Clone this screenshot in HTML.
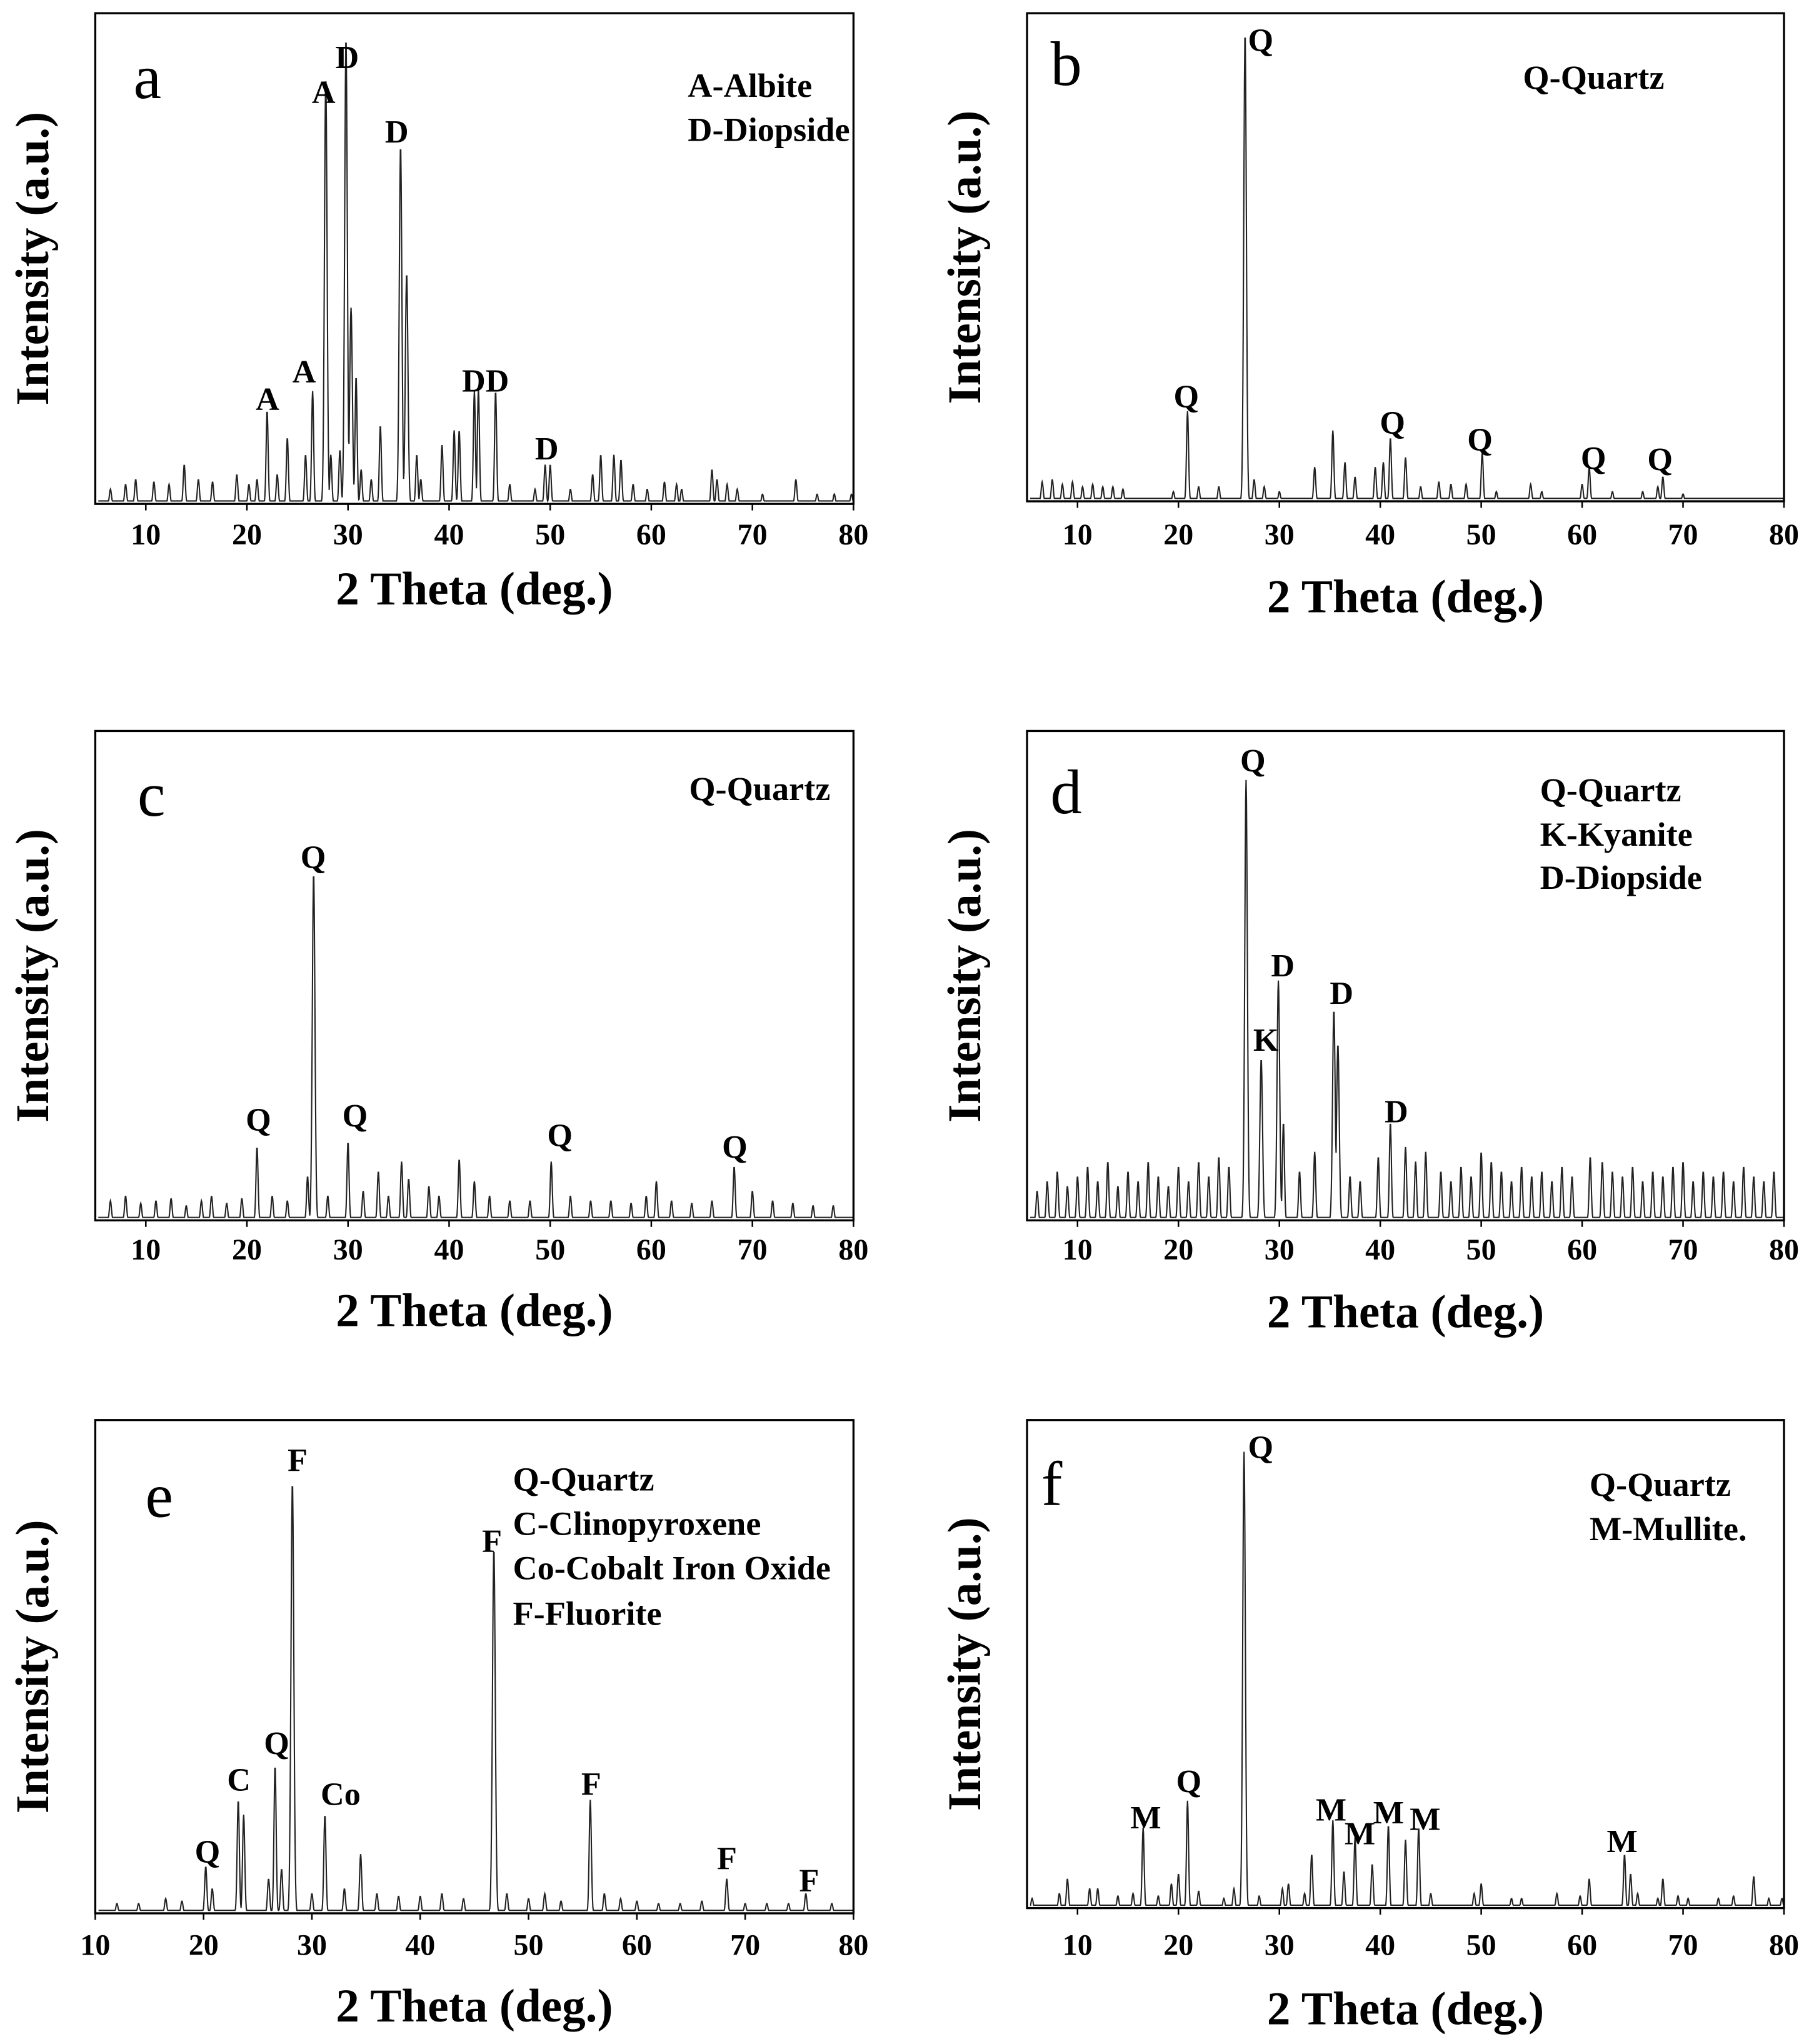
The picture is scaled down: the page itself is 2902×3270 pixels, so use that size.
<!DOCTYPE html>
<html><head><meta charset="utf-8"><style>
html,body{margin:0;padding:0;background:#fff}
svg{display:block}
text{font-family:"Liberation Serif",serif;fill:#000}
</style></head><body>
<svg id="fig" width="2902" height="3270" viewBox="0 0 1390 1566" xmlns="http://www.w3.org/2000/svg"></svg>
<script>
// ---- data (peak position in 2θ, relative height 0..1) ----
const aPos=[29.8,27.8,35.2,35.8,30.3,30.8,22.0,26.5,24.0,33.2,42.5,42.9,44.6,40.5,41.0,39.3,36.8,28.3,29.2,49.5,50.0,55.0,56.3,57.0,54.2,13.8,66.0,66.5,74.3,61.3,62.5,6.5,8.0,9.0,10.8,12.3,15.2,16.6,19.0,20.2,21.0,23.0,25.8,31.3,32.3,37.2,46.0,48.5,52.0,58.2,59.6,63.0,67.5,68.5,71.0,76.4,78.1,79.8];
const aInt=[0.95,0.87,0.73,0.47,0.40,0.26,0.19,0.23,0.135,0.16,0.23,0.235,0.23,0.15,0.15,0.12,0.1,0.1,0.11,0.08,0.08,0.1,0.1,0.09,0.06,0.08,0.07,0.05,0.05,0.045,0.04,0.03,0.04,0.05,0.045,0.04,0.05,0.045,0.06,0.04,0.05,0.06,0.1,0.07,0.05,0.05,0.04,0.03,0.03,0.04,0.03,0.03,0.04,0.03,0.02,0.02,0.02,0.02];
const bPos=[26.6,20.9,35.3,36.5,39.5,40.3,41.0,42.5,45.8,50.1,54.9,60.0,60.7,68.0,67.5,33.5,27.5,6.5,7.5,8.5,9.5,10.5,11.5,12.5,13.5,14.5,19.5,22.0,24.0,28.5,30.0,37.5,44.0,47.0,48.5,51.5,56.0,63.0,66.0,70.0];
const bInt=[0.96,0.185,0.145,0.08,0.07,0.08,0.13,0.09,0.04,0.1,0.035,0.035,0.07,0.05,0.03,0.07,0.045,0.04,0.045,0.035,0.04,0.03,0.035,0.03,0.03,0.025,0.02,0.03,0.03,0.03,0.02,0.05,0.03,0.035,0.035,0.02,0.02,0.02,0.02,0.015];
const cPos=[26.6,21.0,30.0,50.1,68.2,26.0,33.0,35.3,41.0,42.5,36.0,38.0,60.5,70.0,6.5,8.0,9.5,11.0,12.5,14.0,15.5,16.5,18.0,19.5,22.5,24.0,28.0,31.5,34.0,39.0,44.0,46.0,48.0,52.0,54.0,56.0,58.0,59.5,62.0,64.0,66.0,72.0,74.0,76.0,78.0];
const cInt=[0.71,0.15,0.16,0.12,0.11,0.09,0.1,0.12,0.125,0.08,0.085,0.07,0.08,0.06,0.04,0.05,0.035,0.04,0.045,0.03,0.04,0.05,0.035,0.045,0.05,0.04,0.05,0.06,0.05,0.05,0.05,0.04,0.04,0.05,0.04,0.04,0.035,0.05,0.04,0.035,0.04,0.04,0.035,0.03,0.03];
const dPos=[26.7,29.9,28.2,35.4,35.8,41.0,30.4,33.5,39.8,42.5,44.5,50.0,60.8,6.0,7.0,8.0,9.0,10.0,11.0,12.0,13.0,14.0,15.0,16.0,17.0,18.0,19.0,20.0,21.0,22.0,23.0,24.0,25.0,32.0,37.0,38.0,43.5,46.0,47.0,48.0,49.0,51.0,52.0,53.0,54.0,55.0,56.0,57.0,58.0,59.0,62.0,63.0,64.0,65.0,66.0,67.0,68.0,69.0,70.0,71.0,72.0,73.0,74.0,75.0,76.0,77.0,78.0,79.0];
const dInt=[0.9,0.49,0.33,0.43,0.36,0.2,0.2,0.14,0.13,0.15,0.14,0.14,0.13,0.06,0.08,0.1,0.07,0.09,0.11,0.08,0.12,0.07,0.1,0.08,0.12,0.09,0.07,0.11,0.08,0.12,0.09,0.13,0.11,0.1,0.09,0.08,0.12,0.1,0.08,0.11,0.09,0.12,0.1,0.08,0.11,0.09,0.1,0.08,0.11,0.09,0.12,0.1,0.09,0.11,0.08,0.1,0.09,0.11,0.12,0.08,0.1,0.09,0.1,0.08,0.11,0.09,0.08,0.1];
const ePos=[28.2,46.8,23.2,23.7,26.6,31.2,34.5,55.7,20.2,20.8,68.3,75.6,26.0,27.2,48.0,42.0,16.5,12.0,14.0,18.0,30.0,33.0,36.0,38.0,40.0,44.0,50.0,51.5,53.0,57.0,58.5,60.0,62.0,64.0,66.0,70.0,72.0,74.0,78.0];
const eInt=[0.875,0.74,0.23,0.2,0.3,0.2,0.12,0.23,0.095,0.05,0.07,0.04,0.07,0.09,0.04,0.04,0.03,0.02,0.02,0.025,0.04,0.05,0.04,0.035,0.035,0.03,0.03,0.04,0.025,0.04,0.03,0.025,0.02,0.02,0.025,0.02,0.02,0.02,0.02];
const fPos=[26.5,20.9,16.5,35.3,37.5,40.8,42.5,43.8,33.2,39.2,36.4,64.2,64.8,68.0,77.0,60.7,50.0,9.0,30.9,20.0,22.0,57.5,5.5,8.2,11.2,12.0,14.0,15.5,18.0,19.3,24.5,25.5,28.0,30.3,32.5,45.0,49.3,53.0,54.0,59.8,65.5,67.5,69.5,70.5,73.5,75.0,78.5,79.8];
const fInt=[0.935,0.22,0.165,0.18,0.145,0.17,0.14,0.165,0.11,0.09,0.075,0.11,0.07,0.06,0.065,0.06,0.05,0.06,0.05,0.07,0.035,0.03,0.02,0.03,0.04,0.04,0.025,0.03,0.025,0.05,0.02,0.04,0.025,0.04,0.03,0.03,0.03,0.02,0.02,0.025,0.03,0.02,0.025,0.02,0.02,0.025,0.02,0.02];
const ticks5=[10,20,30,40,50,60,70,80];
// peak labels [text, x, y] in figure units
const aLabels=[["D",266,43],["A",248,70],["D",304,100],["A",205,305],["A",233,284],["DD",372,291],["D",419,343]];
const bLabels=[["Q",966,30],["Q",909,303],["Q",1067,323],["Q",1134,336],["Q",1221,350],["Q",1272,351]];
const cLabels=[["Q",240,656],["Q",198,857],["Q",272,854],["Q",429,869],["Q",563,878]];
const dLabels=[["Q",960,582],["D",983,739],["K",970,796],["D",1028,760],["D",1070,851]];
const eLabels=[["Q",159,1418],["C",183,1363],["Q",212,1335],["F",228,1118],["Co",261,1374],["F",377,1180],["F",453,1366],["F",557,1423],["F",620,1440]];
const fLabels=[["M",878,1392],["Q",911,1364],["Q",966,1108],["M",1020,1386],["M",1042,1404],["M",1064,1388],["M",1092,1393],["M",1243,1410]];

const NS="http://www.w3.org/2000/svg";
const svg=document.getElementById('fig');
function mk(tag,attrs,parent){const e=document.createElementNS(NS,tag);for(const k in attrs)e.setAttribute(k,attrs[k]);(parent||svg).appendChild(e);return e;}
function txt(s,x,y,size,weight,anchor,parent){const t=mk('text',{x:x,y:y,'font-size':size,'font-weight':weight,'text-anchor':anchor},parent);t.textContent=s;return t;}

const panels=[
 {id:'a',L:73,T:10,R:654,B:386,x0:5,x1:80,pos:aPos,inten:aInt,labels:aLabels,tickY:417,xlY:463,letter:[113,75],legend:[[527,74,"A-Albite"],[527,108,"D-Diopside"]]},
 {id:'b',L:787,T:10,R:1367,B:384,x0:5,x1:80,pos:bPos,inten:bInt,labels:bLabels,tickY:417,xlY:469,letter:[817,65],legend:[[1167,68,"Q-Quartz"]]},
 {id:'c',L:73,T:560,R:654,B:935,x0:5,x1:80,pos:cPos,inten:cInt,labels:cLabels,tickY:965,xlY:1016,letter:[116,625],legend:[[528,613,"Q-Quartz"]]},
 {id:'d',L:787,T:560,R:1367,B:935,x0:5,x1:80,pos:dPos,inten:dInt,labels:dLabels,tickY:965,xlY:1017,letter:[817,623],legend:[[1180,614,"Q-Quartz"],[1180,648,"K-Kyanite"],[1180,681,"D-Diopside"]]},
 {id:'e',L:73,T:1088,R:654,B:1466,x0:10,x1:80,pos:ePos,inten:eInt,labels:eLabels,tickY:1498,xlY:1549,letter:[122,1162],legend:[[393,1142,"Q-Quartz"],[393,1176,"C-Clinopyroxene"],[393,1210,"Co-Cobalt Iron Oxide"],[393,1245,"F-Fluorite"]]},
 {id:'f',L:787,T:1088,R:1367,B:1462,x0:5,x1:80,pos:fPos,inten:fInt,labels:fLabels,tickY:1498,xlY:1551,letter:[806,1153],legend:[[1218,1146,"Q-Quartz"],[1218,1180,"M-Mullite."]]}
];

panels.forEach(p=>{
 const g=mk('g',{});
 
 
 const xs=v=>p.L+(v-p.x0)/(p.x1-p.x0)*(p.R-p.L);
 const ys=v=>p.B-v*(p.B-p.T);
 let d='';
 const step=0.04;
 for(let x=p.x0+0.3;x<=p.x1;x+=step){
  let v=0.006;
  for(let i=0;i<p.pos.length;i++){
   const w=p.inten[i]>0.3?0.13:0.1;
   const dx=(x-p.pos[i])/w;
   if(Math.abs(dx)<4){const val=p.inten[i]*Math.exp(-dx*dx/2);if(val>v)v=val;}
  }
  d+=(d?'L':'M')+xs(x).toFixed(2)+','+ys(v).toFixed(2);
 }
 const path=mk('path',{d:d,fill:'none',stroke:'#222',"stroke-width":1},g);
 
 
 const fr=mk('rect',{x:p.L,y:p.T,width:p.R-p.L,height:p.B-p.T,fill:'none',stroke:'#000','stroke-width':1.6},g);
 
 
 ticks5.forEach(t=>{
  if(t<p.x0)return;
  mk('line',{x1:xs(t),x2:xs(t),y1:p.B,y2:p.B+5,stroke:'#000','stroke-width':1.2},g);
  const tl=txt(String(t),xs(t),p.tickY,23,'bold','middle',g);
  
  
 });
 const xl=txt('2 Theta (deg.)',(p.L+p.R)/2,p.xlY,36,'bold','middle',g);
 
 
 const cy=(p.T+p.B)/2, cx=p.L-48;
 const yl=txt('Intensity (a.u.)',0,0,36,'bold','middle',g);
 yl.setAttribute('transform','translate('+(cx+12)+','+cy+') rotate(-90)');
 
 
 const lt=txt(p.id,p.letter[0],p.letter[1],48,'normal','middle',g);
 
 
 p.legend.forEach(l=>{
  const e=txt(l[2],l[0],l[1],26,'bold','start',g);
  
  
 });
 p.labels.forEach(l=>{
  const e=txt(l[0],l[1],l[2]+9,25,'bold','middle',g);
  
  
 });
});
</script>
</body></html>
